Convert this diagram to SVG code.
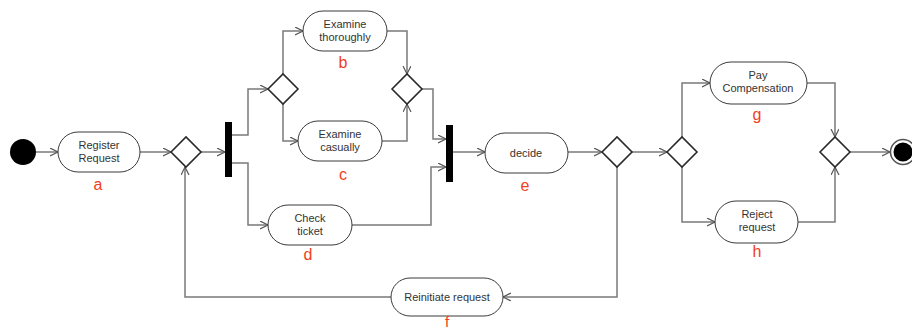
<svg xmlns="http://www.w3.org/2000/svg" width="912" height="331" viewBox="0 0 912 331">
  <style>
    .bg { fill: #ffffff; }
    .act { fill: #ffffff; stroke: #3a3a3a; stroke-width: 1; }
    .dec { fill: #ffffff; stroke: #2a2a2a; stroke-width: 1.6; }
    .bar { fill: #000000; }
    .txt { font-family: "Liberation Sans", Arial, sans-serif; font-size: 11px; fill: #333333; text-anchor: middle; }
    .lbl { font-family: "Liberation Sans", Arial, sans-serif; font-size: 16px; fill: #f0401c; text-anchor: middle; }
    .flow { fill: none; stroke: #7a7a7a; stroke-width: 1.5; marker-end: url(#arr); }
  </style>
  <defs>
    <marker id="arr" markerWidth="10" markerHeight="10" refX="8" refY="4" orient="auto" markerUnits="userSpaceOnUse">
      <path d="M0,0 L8,4 L0,8" fill="none" stroke="#555555" stroke-width="1.2"/>
    </marker>
  </defs>
  <rect class="bg" x="0" y="0" width="912" height="331"/>

  <g id="connectors">
    <path class="flow" d="M36,152 H58"/>
    <path class="flow" d="M140,152 H171"/>
    <path class="flow" d="M201,152 H225"/>
    <path class="flow" d="M232,135 H248 V89 H268"/>
    <path class="flow" d="M283,74 V31 H303"/>
    <path class="flow" d="M283,104 V141 H298"/>
    <path class="flow" d="M232,163 H248 V225 H268"/>
    <path class="flow" d="M387,31 H407 V74"/>
    <path class="flow" d="M382,141 H407 V104"/>
    <path class="flow" d="M422,89 H433 V139 H446"/>
    <path class="flow" d="M352,225 H431 V167 H446"/>
    <path class="flow" d="M453,152 H485"/>
    <path class="flow" d="M568,152 H602"/>
    <path class="flow" d="M632,152 H667"/>
    <path class="flow" d="M617,167 V297 H503"/>
    <path class="flow" d="M391,297 H185 V167"/>
    <path class="flow" d="M682,137 V83 H710"/>
    <path class="flow" d="M682,167 V222 H715"/>
    <path class="flow" d="M807,83 H835 V137"/>
    <path class="flow" d="M798,222 H835 V167"/>
    <path class="flow" d="M850,152 H890"/>
  </g>

  <g id="start">
    <circle cx="23" cy="152" r="13" fill="#000000"/>
  </g>

  <g id="register">
    <rect class="act" x="58" y="132" width="82" height="40" rx="20"/>
    <text class="txt" x="99" y="149">Register</text>
    <text class="txt" x="99" y="162">Request</text>
    <text class="lbl" x="98" y="190">a</text>
  </g>

  <g id="merge-retry">
    <polygon class="dec" points="171,152 186,137 201,152 186,167"/>
  </g>

  <g id="fork">
    <rect class="bar" x="225" y="122" width="7" height="55"/>
  </g>

  <g id="choice-examine">
    <polygon class="dec" points="268,89 283,74 298,89 283,104"/>
  </g>

  <g id="examine-thoroughly">
    <rect class="act" x="303" y="11" width="84" height="40" rx="20"/>
    <text class="txt" x="345" y="28">Examine</text>
    <text class="txt" x="345" y="41">thoroughly</text>
    <text class="lbl" x="343" y="68">b</text>
  </g>

  <g id="examine-casually">
    <rect class="act" x="298" y="121" width="84" height="40" rx="20"/>
    <text class="txt" x="340" y="138">Examine</text>
    <text class="txt" x="340" y="151">casually</text>
    <text class="lbl" x="343" y="180">c</text>
  </g>

  <g id="merge-examine">
    <polygon class="dec" points="392,89 407,74 422,89 407,104"/>
  </g>

  <g id="check-ticket">
    <rect class="act" x="268" y="205" width="84" height="40" rx="20"/>
    <text class="txt" x="310" y="222">Check</text>
    <text class="txt" x="310" y="235">ticket</text>
    <text class="lbl" x="308" y="260">d</text>
  </g>

  <g id="join">
    <rect class="bar" x="446" y="125" width="7" height="57"/>
  </g>

  <g id="decide">
    <rect class="act" x="485" y="133" width="83" height="40" rx="20"/>
    <text class="txt" x="526" y="157">decide</text>
    <text class="lbl" x="525" y="191">e</text>
  </g>

  <g id="choice-reinitiate">
    <polygon class="dec" points="602,152 617,137 632,152 617,167"/>
  </g>

  <g id="reinitiate">
    <rect class="act" x="391" y="278" width="112" height="38" rx="19"/>
    <text class="txt" x="447" y="301">Reinitiate request</text>
    <text class="lbl" x="447" y="327" style="font-size:15px">f</text>
  </g>

  <g id="choice-outcome">
    <polygon class="dec" points="667,152 682,137 697,152 682,167"/>
  </g>

  <g id="pay-compensation">
    <rect class="act" x="710" y="62" width="97" height="42" rx="21"/>
    <text class="txt" x="758" y="79">Pay</text>
    <text class="txt" x="758" y="92">Compensation</text>
    <text class="lbl" x="757" y="120">g</text>
  </g>

  <g id="reject-request">
    <rect class="act" x="715" y="201" width="83" height="42" rx="21"/>
    <text class="txt" x="757" y="218">Reject</text>
    <text class="txt" x="757" y="231">request</text>
    <text class="lbl" x="757" y="257">h</text>
  </g>

  <g id="merge-outcome">
    <polygon class="dec" points="820,152 835,137 850,152 835,167"/>
  </g>

  <g id="end">
    <circle cx="903" cy="152" r="12.5" fill="#ffffff" stroke="#555555" stroke-width="1.5"/>
    <circle cx="903" cy="152" r="9.5" fill="#000000"/>
  </g>
</svg>
